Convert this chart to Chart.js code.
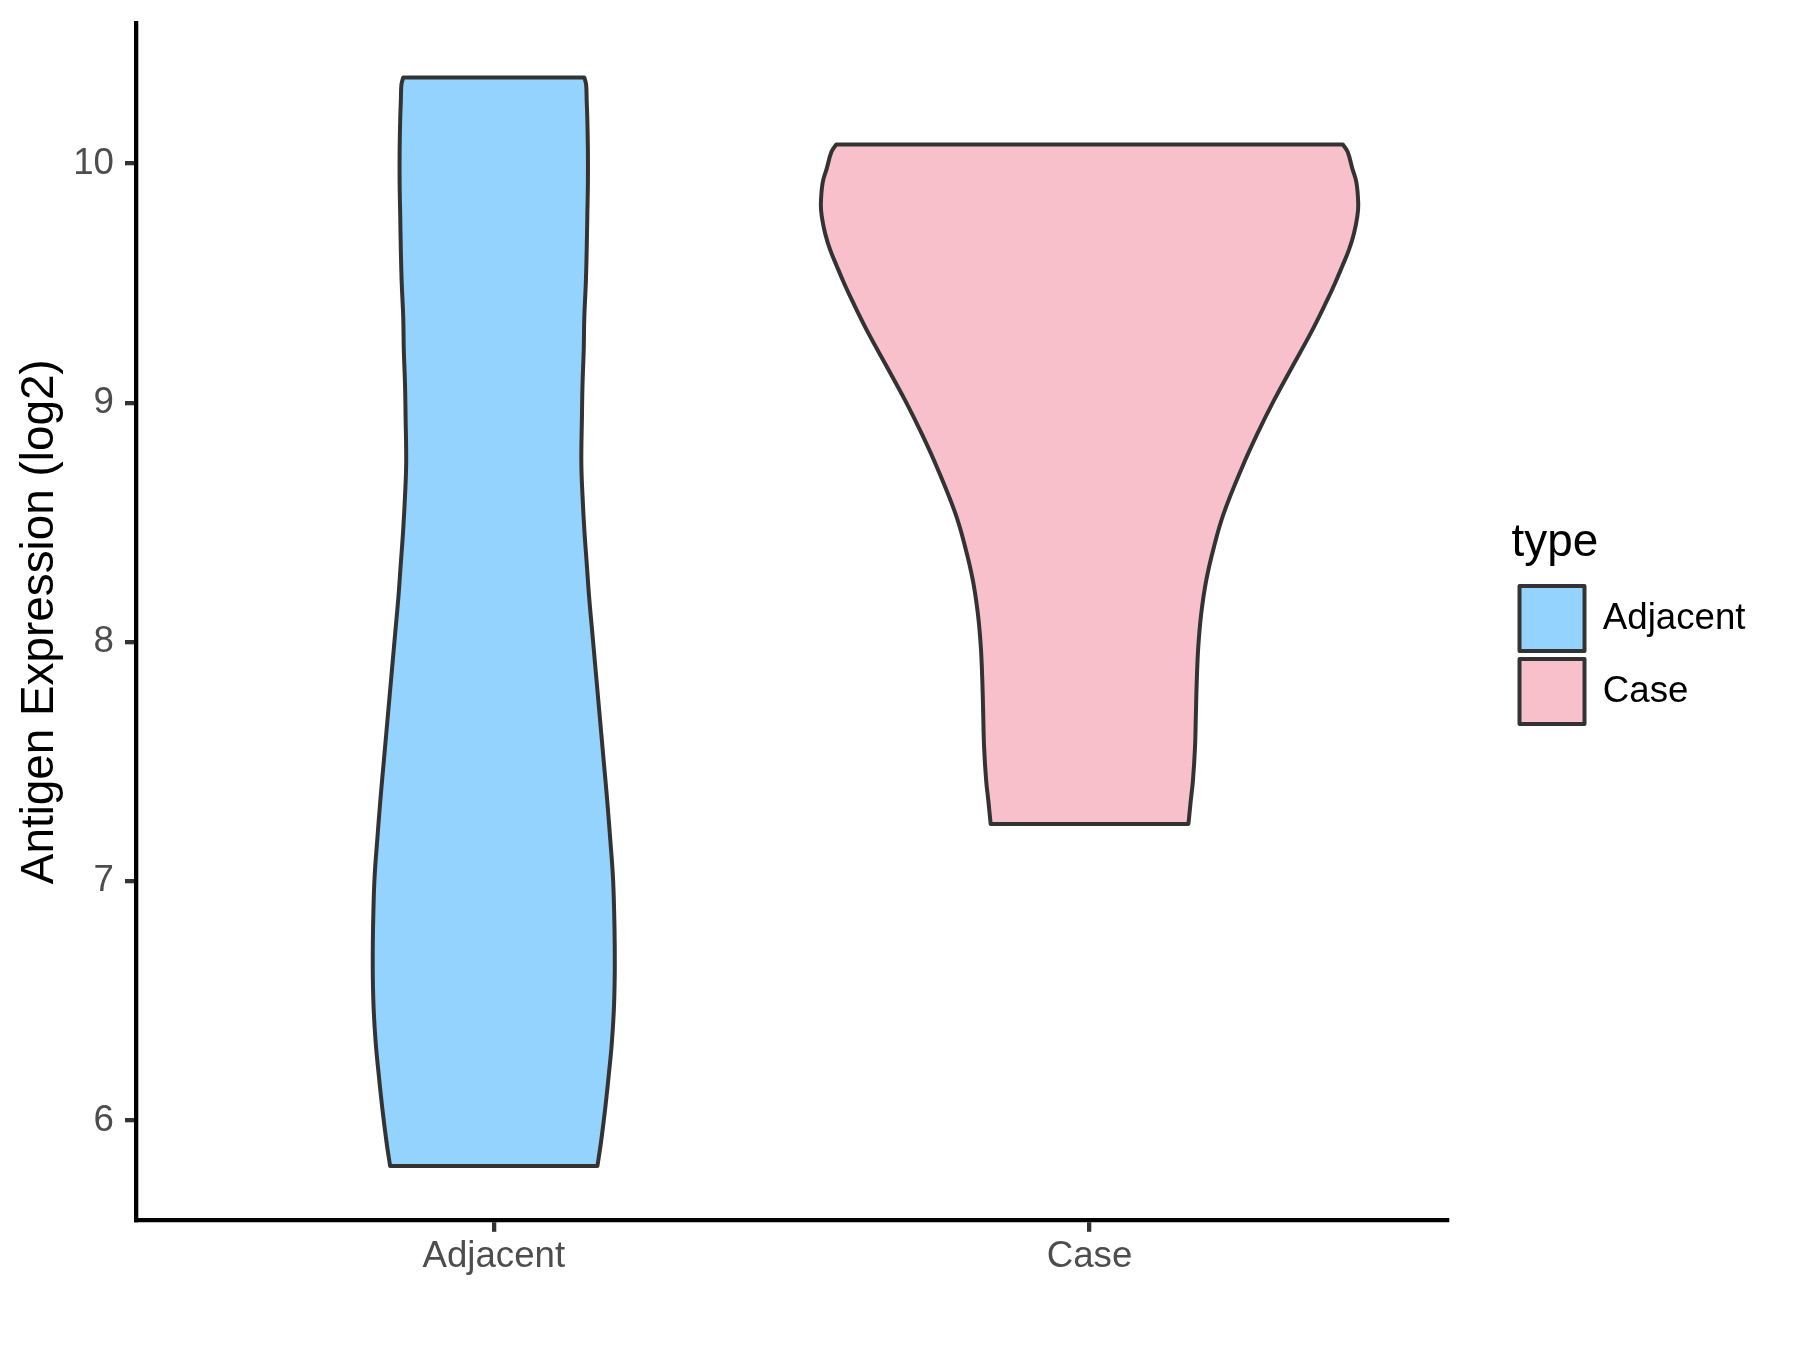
<!DOCTYPE html>
<html>
<head>
<meta charset="utf-8">
<script src="https://cdn.jsdelivr.net/npm/chart.js@4.4.1/dist/chart.umd.min.js"></script>
<style>
  html, body { margin: 0; padding: 0; background: #ffffff; }
  #c { display: block; }
</style>
</head>
<body>
<canvas id="c" width="1800" height="1350"></canvas>
<script>
// ---------------- data ----------------
const categories = ['Adjacent', 'Case'];
const yTickValues = [6, 7, 8, 9, 10];
const yTitle = 'Antigen Expression (log2)';
const legendTitle = 'type';

// Adjacent violin: expression level (y) and half-width of the density outline (x units)
const adjacentY = [5.81, 5.91, 6.05, 6.19, 6.32, 6.46, 6.60, 6.74, 6.88, 7.02, 7.16,
  7.35, 7.49, 7.63, 7.77, 7.91, 8.05, 8.19, 8.33, 8.47, 8.61, 8.75, 8.94, 9.08, 9.22,
  9.36, 9.50, 9.64, 9.78, 9.92, 10.05, 10.19, 10.26, 10.33, 10.36];
const adjacentHalfWidth = [0.174, 0.180, 0.187, 0.193, 0.198, 0.2015, 0.203, 0.203, 0.202, 0.200,
  0.196, 0.190, 0.185, 0.180, 0.175, 0.170, 0.165, 0.160, 0.156, 0.152, 0.149, 0.147,
  0.148, 0.149, 0.151, 0.152, 0.1545, 0.156, 0.157, 0.158, 0.158, 0.157, 0.156, 0.155, 0.152];

// Case violin
const caseY = [7.24, 7.34, 7.42, 7.56, 7.70, 7.84, 7.98, 8.12, 8.26, 8.40, 8.54, 8.73,
  8.87, 9.01, 9.15, 9.29, 9.43, 9.50, 9.57, 9.64, 9.71, 9.78, 9.83, 9.92, 9.98, 10.05, 10.08];
const caseHalfWidth = [0.166, 0.170, 0.1735, 0.177, 0.1785, 0.180, 0.1825, 0.1875, 0.196, 0.209,
  0.2255, 0.256, 0.2815, 0.3095, 0.340, 0.371, 0.399, 0.412, 0.424, 0.4355, 0.444,
  0.4495, 0.451, 0.448, 0.441, 0.433, 0.425];

const fillColors = ['#93D3FE', '#F7C0CB'];

// ---------------- chart ----------------
const FONT = '"Liberation Sans", Arial, Helvetica, sans-serif';
Chart.defaults.font.family = FONT;

// closed outline: left edge upwards, right edge downwards; corner points are
// repeated so the curve smoothing keeps the flat top / bottom edges sharp
function outline(ys, ws, center) {
  const n = ys.length;
  const left = ys.map((y, k) => ({ x: center - ws[k], y: y }));
  const right = ys.map((y, k) => ({ x: center + ws[k], y: y })).reverse();
  return [left[0]].concat(left, [left[n - 1], right[0]], right, [right[n - 1], left[0]]);
}

const violins = [
  { y: adjacentY, w: adjacentHalfWidth },
  { y: caseY, w: caseHalfWidth }
];

const allY = adjacentY.concat(caseY);
const yLo = Math.min(...allY), yHi = Math.max(...allY);
const yPad = (yHi - yLo) * 0.05;

const datasets = categories.map((name, i) => ({
  label: name,
  data: outline(violins[i].y, violins[i].w, i + 1),
  showLine: true,
  fill: 'shape',
  backgroundColor: fillColors[i],
  borderColor: '#333333',
  borderWidth: 4,
  borderJoinStyle: 'round',
  borderCapStyle: 'round',
  pointRadius: 0,
  pointHoverRadius: 0,
  tension: 0.4
}));

const tickGrid = {
  display: true,
  drawOnChartArea: false,
  drawTicks: true,
  tickLength: 11.3,
  tickWidth: 4.3,
  lineWidth: 4.3,
  tickColor: '#333333',
  color: '#333333'
};
const axisBorder = { display: true, color: '#000000', width: 4.3 };

function noEdgePadding(s) {
  s.paddingTop = 0; s.paddingBottom = 0; s.paddingLeft = 0; s.paddingRight = 0;
}

new Chart(document.getElementById('c'), {
  type: 'scatter',
  data: { datasets: datasets },
  options: {
    responsive: false,
    devicePixelRatio: 1,
    animation: false,
    events: [],
    layout: { padding: { top: 23, left: 0, right: 44.5, bottom: 0 } },
    scales: {
      x: {
        type: 'linear',
        position: 'bottom',
        min: 0.4,
        max: categories.length + 0.6,
        afterBuildTicks: s => { s.ticks = categories.map((c, i) => ({ value: i + 1 })); },
        afterFit: s => { s.height = 129.5; noEdgePadding(s); },
        grid: tickGrid,
        border: axisBorder,
        ticks: {
          color: '#4D4D4D',
          font: { size: 36.67 },
          padding: 3.5,
          autoSkip: false,
          maxRotation: 0,
          callback: v => categories[Math.round(v) - 1]
        }
      },
      y: {
        type: 'linear',
        position: 'left',
        min: yLo - yPad,
        max: yHi + yPad,
        afterBuildTicks: s => { s.ticks = yTickValues.map(v => ({ value: v })); },
        afterFit: s => { s.width = 136.3; noEdgePadding(s); },
        grid: tickGrid,
        border: axisBorder,
        ticks: { color: '#4D4D4D', font: { size: 36.67 }, padding: 11 },
        title: {
          display: true,
          text: yTitle,
          color: '#000000',
          font: { size: 45.83 },
          padding: { top: 12.5, bottom: 0 }
        }
      },
      gap: {
        type: 'linear',
        position: 'right',
        display: true,
        grid: { display: false },
        border: { display: false },
        ticks: { display: false },
        afterFit: s => { s.width = 64.5; noEdgePadding(s); }
      }
    },
    plugins: {
      tooltip: { enabled: false },
      legend: {
        position: 'right',
        align: 'start',
        title: {
          display: true,
          text: legendTitle,
          color: '#000000',
          position: 'start',
          font: { size: 45.83 },
          padding: { top: 497, bottom: 3 }
        },
        labels: {
          boxWidth: 65,
          boxHeight: 65,
          padding: 8,
          color: '#000000',
          font: { size: 36.67 }
        }
      }
    }
  }
});
</script>
</body>
</html>
